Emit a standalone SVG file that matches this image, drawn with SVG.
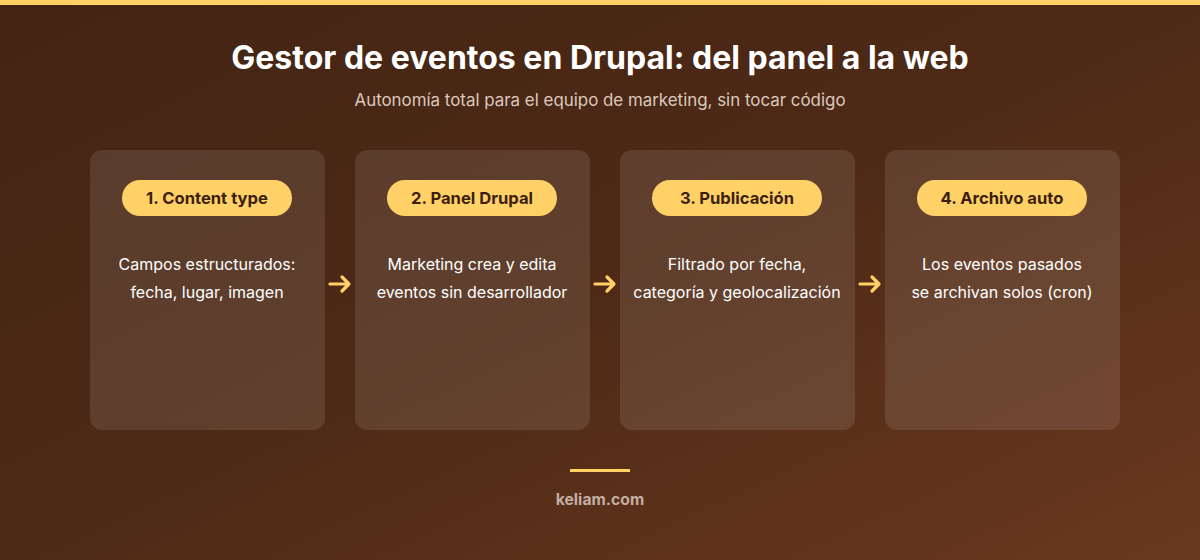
<svg xmlns="http://www.w3.org/2000/svg" width="1200" height="560" viewBox="0 0 1200 560">
<defs>
<linearGradient id="bg" x1="0" y1="0" x2="1" y2="1">
<stop offset="0" stop-color="#432414"/>
<stop offset="0.5" stop-color="#4e2a16"/>
<stop offset="1" stop-color="#6a381e"/>
</linearGradient>
<style>
.card{fill:#ffffff;fill-opacity:0.1}
.pill{fill:#ffd166}
.pt{font-family:Inter,"Liberation Sans",sans-serif;font-weight:700;font-size:16.6px;fill:#3d1f10;text-anchor:middle}
.ct{font-family:Inter,"Liberation Sans",sans-serif;font-size:16px;fill:#ffffff;text-anchor:middle}
.arr{fill:none;stroke:#ffd166;stroke-width:3.2;stroke-linecap:round;stroke-linejoin:round}
</style>
</defs>
<rect width="1200" height="560" fill="url(#bg)"/>
<rect width="1200" height="5" fill="#ffd166"/>
<text x="600" y="69" text-anchor="middle" font-family="Inter,'Liberation Sans',sans-serif" font-weight="700" font-size="32" fill="#ffffff">Gestor de eventos en Drupal: del panel a la web</text>
<text x="600" y="106" text-anchor="middle" font-family="Inter,'Liberation Sans',sans-serif" font-size="16.9" fill="#dcc8bc">Autonomía total para el equipo de marketing, sin tocar código</text>
<g id="node1">
<rect class="card" x="90" y="150" width="235" height="280" rx="12"/>
<rect class="pill" x="122" y="180" width="170" height="36" rx="18"/>
<text class="pt" x="207" y="204">1. Content type</text>
<text class="ct" x="207" y="270">Campos estructurados:</text>
<text class="ct" x="207" y="298">fecha, lugar, imagen</text>
</g>
<g id="node2">
<rect class="card" x="355" y="150" width="235" height="280" rx="12"/>
<rect class="pill" x="387" y="180" width="170" height="36" rx="18"/>
<text class="pt" x="472" y="204">2. Panel Drupal</text>
<text class="ct" x="472" y="270">Marketing crea y edita</text>
<text class="ct" x="472" y="298">eventos sin desarrollador</text>
</g>
<g id="node3">
<rect class="card" x="620" y="150" width="235" height="280" rx="12"/>
<rect class="pill" x="652" y="180" width="170" height="36" rx="18"/>
<text class="pt" x="737" y="204">3. Publicación</text>
<text class="ct" x="737" y="270">Filtrado por fecha,</text>
<text class="ct" x="737" y="298">categoría y geolocalización</text>
</g>
<g id="node4">
<rect class="card" x="885" y="150" width="235" height="280" rx="12"/>
<rect class="pill" x="917" y="180" width="170" height="36" rx="18"/>
<text class="pt" x="1002" y="204">4. Archivo auto</text>
<text class="ct" x="1002" y="270">Los eventos pasados</text>
<text class="ct" x="1002" y="298">se archivan solos (cron)</text>
</g>
<g id="connectors">
<path class="arr" d="M330 284H349M342 277L349 284L342 291"/>
<path class="arr" d="M595 284H614M607 277L614 284L607 291"/>
<path class="arr" d="M860 284H879M872 277L879 284L872 291"/>
</g>
<rect x="570" y="469" width="60" height="3" fill="#ffd166"/>
<text x="600" y="505" text-anchor="middle" font-family="Inter,'Liberation Sans',sans-serif" font-weight="700" font-size="15.7" fill="#c2aea4">keliam.com</text>
</svg>
